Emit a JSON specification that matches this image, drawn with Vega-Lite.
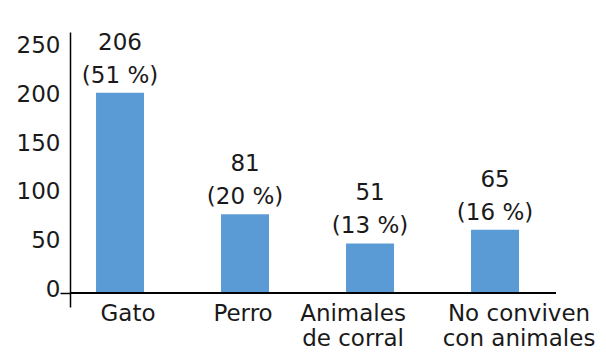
{
  "$schema": "https://vega.github.io/schema/vega-lite/v6.json",
  "autosize": {"type": "none"},
  "padding": {"left": 70, "top": 32, "right": 50, "bottom": 47},
  "width": 486,
  "height": 275,
  "background": "white",
  "config": {
    "view": {"stroke": null},
    "font": "DejaVu Sans"
  },
  "data": {
    "values": [
      {"categoria": "Gato", "valor": 206, "pct": 51},
      {"categoria": "Perro", "valor": 81, "pct": 20},
      {"categoria": "Animales de corral", "valor": 51, "pct": 13},
      {"categoria": "No conviven con animales", "valor": 65, "pct": 16}
    ]
  },
  "encoding": {
    "x": {
      "field": "categoria",
      "type": "nominal",
      "sort": null,
      "scale": {"paddingInner": 0.616, "paddingOuter": 0.252, "align": 0.413},
      "axis": {
        "title": null,
        "domain": false,
        "ticks": false,
        "labelAngle": 0,
        "labelFont": "DejaVu Sans",
        "labelFontSize": 23,
        "labelColor": "#1a1a1a",
        "labelPadding": -5,
        "labelLineHeight": 25,
        "labelBaseline": "top",
        "labelOffset": {
          "condition": [
            {"test": "datum.value == 'Gato'", "value": 8},
            {"test": "datum.value == 'Animales de corral'", "value": -17},
            {"test": "datum.value == 'No conviven con animales'", "value": 24}
          ],
          "value": -2
        },
        "labelExpr": "datum.value == 'Animales de corral' ? ['Animales', 'de corral'] : datum.value == 'No conviven con animales' ? ['No conviven', 'con animales'] : datum.label"
      }
    }
  },
  "layer": [
    {
      "mark": {"type": "bar", "color": "#5b9bd5"},
      "encoding": {
        "y": {
          "field": "valor",
          "type": "quantitative",
          "scale": {"domain": [-14.4, 268.5], "nice": false, "zero": false},
          "axis": {
            "title": null,
            "values": [0, 50, 100, 150, 200, 250],
            "grid": false,
            "domainColor": "#000000",
            "domainWidth": 1.5,
            "tickSize": 10,
            "tickWidth": 1.5,
            "tickColor": "#000000",
            "tickOpacity": {"condition": {"test": "datum.value === 0", "value": 1}, "value": 0},
            "labelPadding": 0,
            "labelOffset": -4,
            "labelFont": "DejaVu Sans",
            "labelFontSize": 23,
            "labelColor": "#1a1a1a"
          }
        },
        "y2": {"datum": 0}
      }
    },
    {
      "mark": {"type": "rule", "color": "#000000", "strokeWidth": 1.5},
      "encoding": {"y": {"datum": 0, "type": "quantitative"}, "x": null}
    },
    {
      "transform": [
        {"calculate": "datum.valor + '\\n(' + datum.pct + ' %)'", "as": "etiqueta"}
      ],
      "mark": {
        "type": "text",
        "baseline": "bottom",
        "align": "center",
        "dy": -38,
        "lineBreak": "\n",
        "lineHeight": 33,
        "font": "DejaVu Sans",
        "fontSize": 23,
        "color": "#1a1a1a"
      },
      "encoding": {
        "y": {"field": "valor", "type": "quantitative"},
        "text": {"field": "etiqueta"}
      }
    }
  ]
}
